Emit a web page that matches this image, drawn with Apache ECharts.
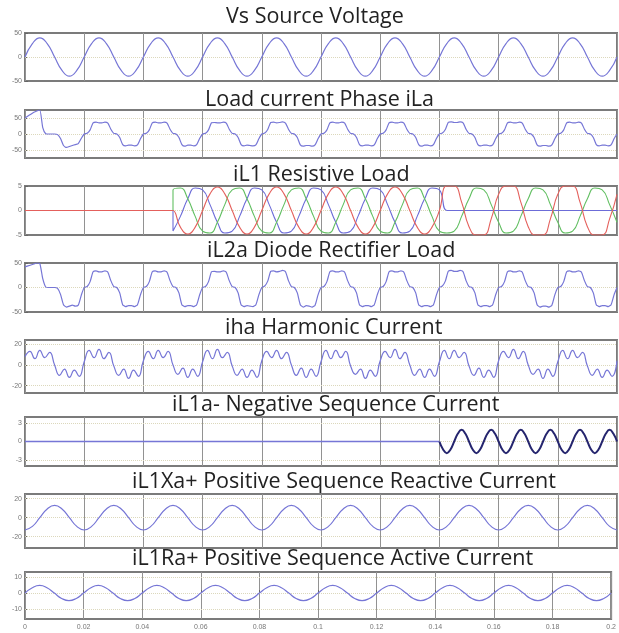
<!DOCTYPE html>
<html>
<head>
<meta charset="utf-8">
<script src="https://cdn.jsdelivr.net/npm/echarts@6/dist/echarts.min.js"></script>
<style>
  html, body { margin: 0; padding: 0; background: #ffffff; }
  #chart { width: 619px; height: 633px; }
</style>
</head>
<body>
<div id="chart"></div>
<script>
// ---- time axis (s) ----
const timeTicks = [0, 0.02, 0.04, 0.06, 0.08, 0.1, 0.12, 0.14, 0.16, 0.18, 0.2];

// ---- panel titles ----
const panelTitles = [
  'Vs Source Voltage',
  'Load current Phase iLa',
  'iL1 Resistive Load',
  'iL2a Diode Rectifier Load',
  'iha Harmonic Current',
  'iL1a- Negative Sequence Current',
  'iL1Xa+ Positive Sequence Reactive Current',
  'iL1Ra+ Positive Sequence Active Current'
];

// ---- y tick labels and axis ranges per panel ----
const yTickValues = [
  [-50, 0, 50], [-50, 0, 50], [-5, 0, 5], [-50, 0, 50],
  [-20, 0, 20], [-3, 0, 3], [-20, 0, 20], [-10, 0, 10]
];
const yRanges = [
  [-50, 50], [-75, 75], [-5, 5], [-50, 50],
  [-27, 24], [-4, 4], [-32, 25], [-16, 13]
];

// ---- source voltage, sampled every 2.5 ms ----
const vsSource = [
  0, 28, 40, 28, 0, -28, -40, -28,
  0, 28, 40, 28, 0, -28, -40, -28,
  0, 28, 40, 28, 0, -28, -40, -28,
  0, 28, 40, 28, 0, -28, -40, -28,
  0, 28, 40, 28, 0, -28, -40, -28,
  0, 28, 40, 28, 0, -28, -40, -28,
  0, 28, 40, 28, 0, -28, -40, -28,
  0, 28, 40, 28, 0, -28, -40, -28,
  0, 28, 40, 28, 0, -28, -40, -28,
  0, 28, 40, 28, 0, -28, -40, -28,
  0
];

// ---- load current phase a, sampled every 1 ms ----
const loadCurrentA = [
  50, 56, 62, 68, 72, 75, 20, 1, 0, 0, 0, -2, -14, -36, -42, -39, -36, -33, -30, -14,
  0, 2, 13, 35, 37, 35, 35, 37, 34, 15, 2, 0, -11, -33, -37, -35, -35, -37, -34, -15,
  0, 2, 13, 35, 37, 35, 35, 37, 34, 15, 2, 0, -11, -33, -38, -35, -35, -37, -33, -14,
  0, 2, 13, 35, 36, 35, 35, 37, 34, 15, 2, 0, -11, -33, -37, -35, -36, -37, -34, -15,
  0, 3, 14, 36, 37, 35, 36, 38, 34, 15, 2, 0, -11, -34, -38, -36, -36, -38, -34, -15,
  0, 2, 13, 35, 37, 35, 35, 37, 34, 15, 2, 0, -11, -33, -37, -35, -35, -37, -34, -15,
  0, 2, 13, 35, 37, 35, 35, 37, 34, 15, 2, 0, -11, -33, -38, -35, -35, -37, -33, -14,
  0, 3, 14, 36, 38, 36, 36, 38, 35, 15, 2, 0, -11, -33, -37, -35, -35, -37, -34, -15,
  0, 2, 13, 35, 37, 35, 35, 37, 34, 15, 2, 0, -11, -34, -38, -36, -36, -38, -34, -15,
  0, 2, 13, 35, 37, 35, 35, 37, 34, 15, 2, 0, -11, -33, -37, -35, -35, -37, -34, -15,
  0
];

// ---- resistive load currents (phases a, b, c) from switch-on at 50 ms, every 2.5 ms ----
const iL1SwitchOn = 0.05;
const iL1a = [
  0, -3.4, -4.8, -3.4, 0, 3.4, 4.8, 3.4,
  0, -3.4, -4.8, -3.4, 0, 3.4, 4.8, 3.4,
  0, -3.4, -4.8, -3.4, 0, 3.4, 4.8, 3.4,
  0, -3.4, -4.8, -3.4, 0, 3.4, 4.8, 3.4,
  0, -3.4, -4.8, -3.4, 0,
  5, 5, 1.7, -3.3, -5, -5, -1.7, 3.3,
  5, 5, 1.7, -3.3, -5, -5, -1.7, 3.3,
  5, 5, 1.7, -3.3, -5, -5, -1.7, 3.3
];
const iL1b = [
  4.2, 4.6, 2.4, -1.2, -4.2, -4.6, -2.4, 1.2,
  4.2, 4.6, 2.4, -1.2, -4.2, -4.6, -2.4, 1.2,
  4.2, 4.6, 2.4, -1.2, -4.2, -4.6, -2.4, 1.2,
  4.2, 4.6, 2.4, -1.2, -4.2, -4.6, -2.4, 1.2,
  4.2, 4.6, 2.4, -1.2, -4.2,
  -4.6, -4.2, -1.2, 2.4, 4.6, 4.2, 1.2, -2.4,
  -4.6, -4.2, -1.2, 2.4, 4.6, 4.2, 1.2, -2.4,
  -4.6, -4.2, -1.2, 2.4, 4.6, 4.2, 1.2, -2.4
];
const iL1c = [
  -4.2, -1.2, 2.4, 4.6, 4.2, 1.2, -2.4, -4.6,
  -4.2, -1.2, 2.4, 4.6, 4.2, 1.2, -2.4, -4.6,
  -4.2, -1.2, 2.4, 4.6, 4.2, 1.2, -2.4, -4.6,
  -4.2, -1.2, 2.4, 4.6, 4.2, 1.2, -2.4, -4.6,
  -4.2, -1.2, 2.4, 4.6, 4.2,
  0, 0, 0, 0, 0, 0, 0, 0,
  0, 0, 0, 0, 0, 0, 0, 0,
  0, 0, 0, 0, 0, 0, 0, 0
];

// ---- diode rectifier load current phase a, every 1 ms ----
const rectifierLoadA = [
  42, 44, 46, 48, 50, 49, 18, 1, 0, 0, 0, -2, -14, -35, -40, -38, -36, -38, -36, -16,
  0, 2, 12, 32, 34, 32, 32, 34, 31, 14, 2, 0, -11, -35, -39, -37, -37, -39, -35, -15,
  0, 2, 12, 32, 34, 32, 32, 34, 31, 14, 2, 0, -11, -35, -39, -37, -37, -39, -35, -15,
  0, 2, 12, 32, 33, 32, 32, 34, 31, 14, 2, 0, -11, -35, -39, -37, -38, -39, -35, -15,
  0, 3, 13, 33, 34, 32, 33, 35, 32, 14, 2, 0, -11, -35, -40, -37, -38, -40, -36, -15,
  0, 2, 12, 32, 34, 32, 32, 34, 31, 14, 2, 0, -11, -35, -39, -37, -37, -39, -35, -15,
  0, 2, 12, 32, 34, 32, 32, 34, 31, 14, 2, 0, -11, -35, -39, -37, -37, -39, -35, -15,
  0, 3, 13, 33, 35, 33, 33, 35, 32, 14, 2, 0, -11, -35, -39, -37, -37, -39, -35, -15,
  0, 2, 12, 32, 34, 32, 32, 34, 31, 14, 2, 0, -11, -35, -40, -38, -38, -40, -36, -15,
  0, 2, 12, 32, 34, 32, 32, 34, 31, 14, 2, 0, -11, -35, -39, -37, -37, -39, -35, -15,
  0
];

// ---- harmonic current phase a, one sample per 30 degrees ----
const harmonicA = [
  8, 13, 6, 14, 7, 12, 0, -10, -4, -12, -5, -11,
  3, 14, 7, 15, 6, 12, -1, -10, -4, -13, -5, -11,
  4, 13, 6, 14, 7, 13, 0, -9, -3, -12, -4, -11,
  3, 14, 6, 15, 7, 12, -1, -10, -4, -12, -5, -12,
  4, 13, 7, 14, 6, 12, 0, -10, -3, -12, -4, -11,
  3, 14, 6, 14, 7, 13, -1, -9, -4, -13, -5, -11,
  4, 13, 7, 15, 6, 12, 0, -10, -4, -12, -4, -11,
  3, 14, 6, 14, 7, 12, -1, -10, -3, -12, -5, -12,
  4, 13, 7, 15, 6, 13, 0, -9, -4, -13, -4, -11,
  3, 14, 6, 14, 7, 12, -1, -10, -4, -12, -5, -11,
  4
];

// ---- negative sequence current: zero until the unbalance at 140 ms, then every 1.25 ms ----
const negSeqStart = 0.14;
const negSeqA = [
  0, -1.3, -1.9, -1.3, 0, 1.3, 1.9, 1.3,
  0, -1.3, -1.9, -1.3, 0, 1.3, 1.9, 1.3,
  0, -1.3, -1.9, -1.3, 0, 1.3, 1.9, 1.3,
  0, -1.3, -1.9, -1.3, 0, 1.3, 1.9, 1.3,
  0, -1.3, -1.9, -1.3, 0, 1.3, 1.9, 1.3,
  0, -1.3, -1.9, -1.3, 0, 1.3, 1.9, 1.3,
  0
];

// ---- positive sequence reactive / active components, every 2.5 ms ----
const posSeqReactiveA = [
  -13, -9.2, 0, 9.2, 13, 9.2, 0, -9.2,
  -13, -9.2, 0, 9.2, 13, 9.2, 0, -9.2,
  -13, -9.2, 0, 9.2, 13, 9.2, 0, -9.2,
  -13, -9.2, 0, 9.2, 13, 9.2, 0, -9.2,
  -13, -9.2, 0, 9.2, 13, 9.2, 0, -9.2,
  -13, -9.2, 0, 9.2, 13, 9.2, 0, -9.2,
  -13, -9.2, 0, 9.2, 13, 9.2, 0, -9.2,
  -13, -9.2, 0, 9.2, 13, 9.2, 0, -9.2,
  -13, -9.2, 0, 9.2, 13, 9.2, 0, -9.2,
  -13, -9.2, 0, 9.2, 13, 9.2, 0, -9.2,
  -13
];
const posSeqActiveA = [
  0, 3.3, 4.7, 3.3, 0, -3.3, -4.7, -3.3,
  0, 3.3, 4.7, 3.3, 0, -3.3, -4.7, -3.3,
  0, 3.3, 4.7, 3.3, 0, -3.3, -4.7, -3.3,
  0, 3.3, 4.7, 3.3, 0, -3.3, -4.7, -3.3,
  0, 3.3, 4.7, 3.3, 0, -3.3, -4.7, -3.3,
  0, 3.3, 4.7, 3.3, 0, -3.3, -4.7, -3.3,
  0, 3.3, 4.7, 3.3, 0, -3.3, -4.7, -3.3,
  0, 3.3, 4.7, 3.3, 0, -3.3, -4.7, -3.3,
  0, 3.3, 4.7, 3.3, 0, -3.3, -4.7, -3.3,
  0, 3.3, 4.7, 3.3, 0, -3.3, -4.7, -3.3,
  0
];

// ---- helpers ----
const sampled = (values, t0, dt) =>
  values.map((v, i) => [+(t0 + i * dt).toFixed(7), v]);

// phase currents are zero until switch-on, then jump to their first sample
const withLeadingZero = (values, tOn) => {
  const lead = [[0, 0], [+(tOn - 0.0003).toFixed(7), 0]];
  if (values[0] !== 0) lead.push([tOn, 0]);
  return lead.concat(sampled(values, tOn, 0.0025));
};

// ---- layout: plot boxes and title anchors ----
const panelBoxes = [
  [33, 48], [110, 48], [186, 49], [263, 49],
  [340, 53], [417, 49], [494, 54], [572, 47]
];
const titleAnchors = [
  [226, 5], [205, 88], [233, 163], [207, 239],
  [225, 316], [172, 393], [132, 470], [132, 547]
];

const TRACE = '#7676d6';
const traceStyle = { color: TRACE, width: 1.2 };

const grids = panelBoxes.map(([top, height]) => ({
  left: 25, right: 2, top, height,
  show: true, borderColor: '#7b7b7b', borderWidth: 2, backgroundColor: '#ffffff'
}));

const xAxes = panelBoxes.map((_, i) => ({
  type: 'value', gridIndex: i, min: 0, max: 0.2, interval: 0.02,
  axisLine: { show: false },
  axisTick: { show: i === 7, inside: true, length: 3, lineStyle: { color: '#666' } },
  axisLabel: {
    show: i === 7, fontSize: 7, color: '#777', margin: 5,
    customValues: timeTicks, formatter: v => String(+(+v).toFixed(2))
  },
  splitLine: { show: true, lineStyle: { color: '#929292', width: 1 } }
}));

const yAxes = panelBoxes.map((_, i) => ({
  type: 'value', gridIndex: i, min: yRanges[i][0], max: yRanges[i][1],
  axisLine: { show: false },
  axisTick: { show: true, inside: true, length: 3, customValues: yTickValues[i], lineStyle: { color: '#666' } },
  axisLabel: { fontSize: 7, color: '#777', margin: 3, customValues: yTickValues[i] },
  splitLine: { show: false }
}));

// faint dotted reference lines at the interior tick values, kept beneath the traces
const refSeries = panelBoxes.map((_, i) => ({
  type: 'line', xAxisIndex: i, yAxisIndex: i, data: [], z: 1, silent: true,
  animation: false,
  markLine: {
    z: 1, silent: true, symbol: 'none', animation: false,
    label: { show: false },
    lineStyle: { color: '#dcd8bc', type: 'dotted', width: 1 },
    data: yTickValues[i]
      .filter(v => v > yRanges[i][0] && v < yRanges[i][1])
      .map(v => ({ yAxis: v }))
  }
}));

const lineSeries = (name, i, data, style, extra) => Object.assign({
  name, type: 'line', xAxisIndex: i, yAxisIndex: i, z: 6,
  data, showSymbol: false, symbol: 'none', smooth: true,
  lineStyle: style, clip: true, animation: false
}, extra || {});

const negSeqPoints = sampled(negSeqA, negSeqStart, 0.00125);

const traces = [
  lineSeries('Vs', 0, sampled(vsSource, 0, 0.0025), traceStyle),
  lineSeries('iLa', 1, sampled(loadCurrentA, 0, 0.001), traceStyle, { smooth: 0.2 }),
  lineSeries('iL1c', 2, withLeadingZero(iL1c, iL1SwitchOn), { color: '#6c6cd8', width: 1.1 }),
  lineSeries('iL1b', 2, withLeadingZero(iL1b, iL1SwitchOn), { color: '#62bf62', width: 1.1 }),
  lineSeries('iL1a', 2, withLeadingZero(iL1a, iL1SwitchOn), { color: '#e4605c', width: 1.1 }),
  lineSeries('iL2a', 3, sampled(rectifierLoadA, 0, 0.001), traceStyle, { smooth: 0.2 }),
  lineSeries('iha', 4, sampled(harmonicA, 0, 0.02 / 12), traceStyle),
  // balanced interval (zero) in the regular trace colour, unbalanced interval in dark blue
  lineSeries('iL1a- balanced', 5, [[0, 0], negSeqPoints[0]], { color: TRACE, width: 1.6 }, { smooth: false }),
  lineSeries('iL1a-', 5, negSeqPoints, { color: '#25256e', width: 2 }),
  lineSeries('iL1Xa+', 6, sampled(posSeqReactiveA, 0, 0.0025), traceStyle),
  lineSeries('iL1Ra+', 7, sampled(posSeqActiveA, 0, 0.0025), traceStyle)
];

const titles = panelTitles.map((text, i) => ({
  text, left: titleAnchors[i][0], top: titleAnchors[i][1], padding: 0,
  textStyle: { fontFamily: 'Open Sans', fontSize: 21.5, fontWeight: 'normal', color: '#222', lineHeight: 24 }
}));

const chart = echarts.init(document.getElementById('chart'), null, { renderer: 'canvas' });
chart.setOption({
  animation: false,
  backgroundColor: '#ffffff',
  title: titles,
  grid: grids,
  xAxis: xAxes,
  yAxis: yAxes,
  series: refSeries.concat(traces)
});
</script>
</body>
</html>
